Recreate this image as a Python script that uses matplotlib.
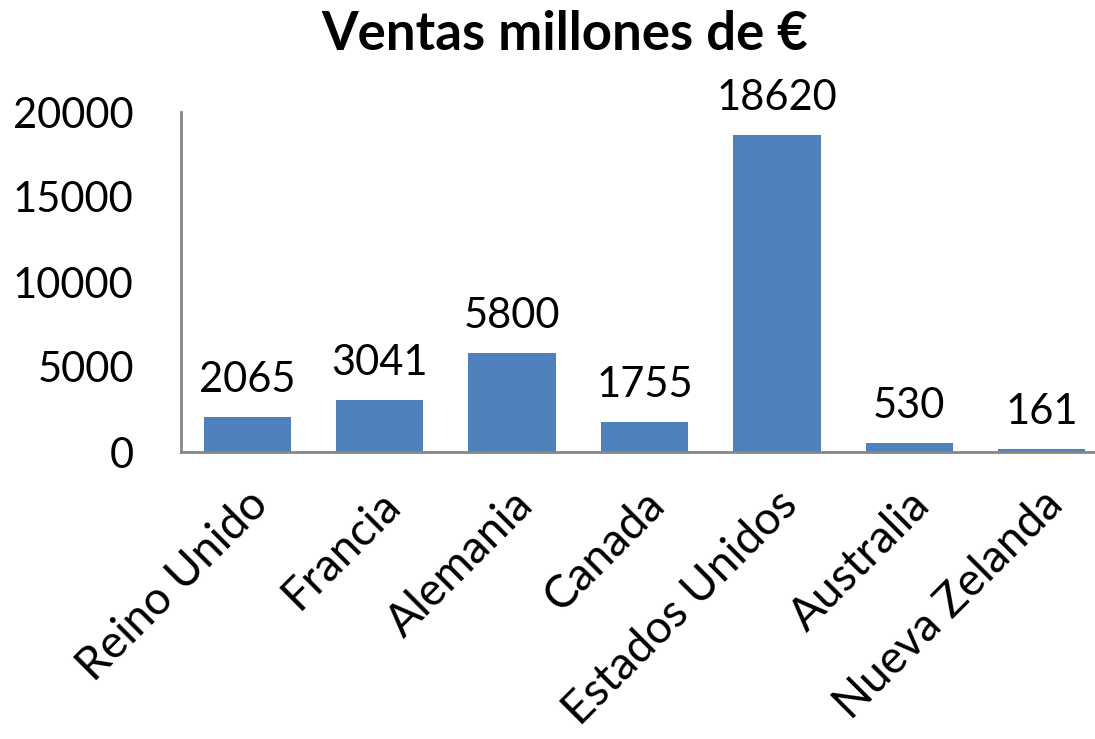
import matplotlib
matplotlib.use("Agg")
import matplotlib.pyplot as plt
from matplotlib.transforms import ScaledTranslation

paises = ["Reino Unido", "Francia", "Alemania", "Canada", "Estados Unidos",
          "Australia", "Nueva Zelanda"]
ventas = [2065, 3041, 5800, 1755, 18620, 530, 161]
yticks = [0, 5000, 10000, 15000, 20000]

plt.rcParams['font.family'] = ['Lato', 'DejaVu Sans']

W, H = 1095, 739
fig = plt.figure(figsize=(W / 100, H / 100), dpi=100)
# axes runs past the right edge, like the original
left, bottom, top = 181, 452, 112
ax = fig.add_axes([left / W, 1 - bottom / H, 927 / W, (bottom - top) / H])

x = range(len(paises))
bars = ax.bar(x, ventas, width=0.66, color="#4F81BD")
for b, v in zip(bars, ventas):
    ax.text(b.get_x() + b.get_width() / 2, v + 1470, str(v),
            ha="center", va="baseline", fontsize=30)

ax.set_xlim(-0.5, len(paises) - 0.5)
ax.set_ylim(0, 20000)
ax.set_yticks(yticks)
ax.set_yticklabels([str(t) for t in yticks], fontsize=30)
ax.set_xticks(list(x))
ax.set_xticklabels(paises, fontsize=33, rotation=45, ha="right", va="center",
                   rotation_mode="anchor")
ax.tick_params(axis="y", length=0, pad=34)
ax.tick_params(axis="x", length=0, pad=33)
shift = ScaledTranslation(10 / 72, 0, fig.dpi_scale_trans)
for lbl in ax.get_xticklabels():
    lbl.set_transform(lbl.get_transform() + shift)

for s in ["top", "right"]:
    ax.spines[s].set_visible(False)
for s in ["left", "bottom"]:
    ax.spines[s].set_color("#868686")
    ax.spines[s].set_linewidth(2)

fig.text(565 / W, 1 - 50 / H, "Ventas millones de €", ha="center",
         va="baseline", fontsize=38, fontweight="bold")

fig.savefig("out.png", dpi=100)
